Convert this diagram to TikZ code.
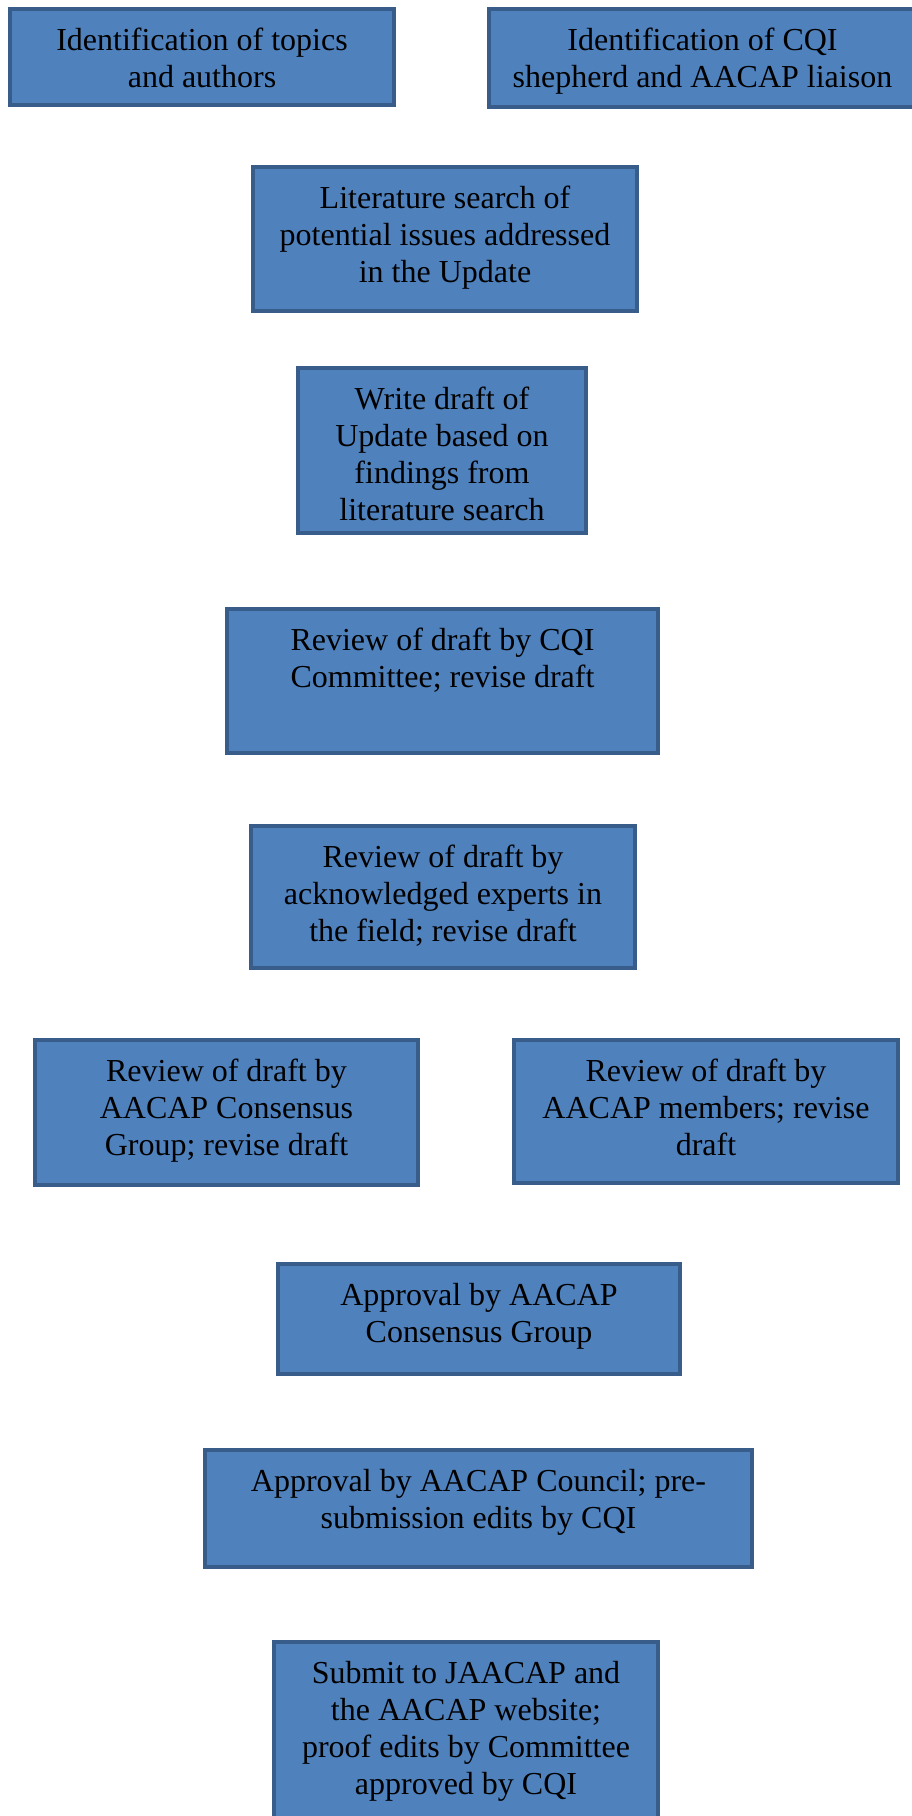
\documentclass[tikz,border=0pt]{standalone}
\usepackage{fontspec}
\setmainfont{Liberation Serif}
\definecolor{boxfill}{HTML}{4F81BD}
\definecolor{boxline}{HTML}{385D8A}
\begin{document}
\begin{tikzpicture}[x=1pt,y=-1pt,
  stepbox/.style={draw=boxline, fill=boxfill, line width=4pt, inner sep=0pt, outer sep=2pt, anchor=north west},
  txt/.style={anchor=north, inner sep=0pt, align=center, text=black, font=\fontsize{32}{37}\selectfont}]
\useasboundingbox (0,0) rectangle (912,1816);
\begin{scope}
\clip (0,0) rectangle (912,1816);
% boxes: outer (x1,y1)-(x2,y2)
\newcommand{\mybox}[6]{%
  \node[stepbox, minimum width={#3-#1-4pt}, minimum height={#4-#2-4pt}] (#5) at (#1,#2) {};
  \node[txt] (#5t) at ([yshift=-17pt]#5.north) {\strut #6};}
\mybox{8}{7}{396}{107}{b1}{Identification of topics\\and authors}
\mybox{487}{7}{918}{109}{b2}{Identification of CQI\\shepherd and AACAP liaison}
\mybox{251}{165}{639}{313}{b3}{Literature search of\\potential issues addressed\\in the Update}
\mybox{296}{366}{588}{535}{b4}{Write draft of\\Update based on\\findings from\\literature search}
\mybox{225}{607}{660}{755}{b5}{Review of draft by CQI\\Committee; revise draft}
\mybox{249}{824}{637}{970}{b6}{Review of draft by\\acknowledged experts in\\the field; revise draft}
\mybox{33}{1038}{420}{1187}{b7}{Review of draft by\\AACAP Consensus\\Group; revise draft}
\mybox{512}{1038}{900}{1185}{b8}{Review of draft by\\AACAP members; revise\\draft}
\mybox{276}{1262}{682}{1376}{b9}{Approval by AACAP\\Consensus Group}
\mybox{203}{1448}{754}{1569}{b10}{Approval by AACAP Council; pre-\\submission edits by CQI}
\mybox{272}{1640}{660}{1840}{b11}{Submit to JAACAP and\\the AACAP website;\\proof edits by Committee\\approved by CQI}
\end{scope}
\end{tikzpicture}
\end{document}
